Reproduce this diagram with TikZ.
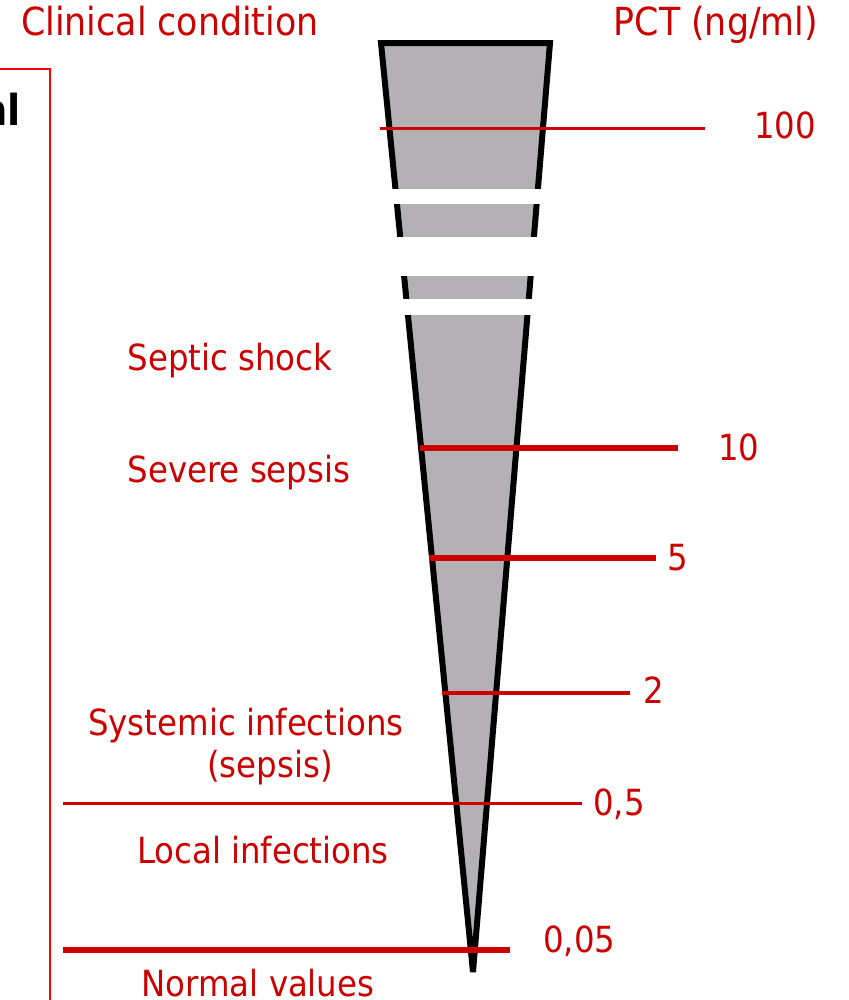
\documentclass[tikz,border=0pt]{standalone}
\usepackage{xcolor}
\usepackage{fontspec}
\setmainfont{DejaVu Sans Condensed}
\usepackage{tikz}
\usetikzlibrary{positioning}

\definecolor{pctred}{HTML}{CC0000}
\definecolor{conegray}{HTML}{B3B1B4}

\begin{document}
\begin{tikzpicture}[x=0.75pt, y=-0.75pt,
  lbl/.style  = {text=pctred, inner sep=0pt, anchor=base,
                 font=\fontsize{27}{32}\selectfont},
  head/.style = {lbl, font=\fontsize{29}{34}\selectfont},
  num/.style  = {lbl, anchor=base west},
  lvl/.style  = {draw=pctred, line width=2.25pt},
  lvlmid/.style  = {draw=pctred, line width=3pt},
  lvlbold/.style = {draw=pctred, line width=4.5pt},
  cone/.style = {fill=conegray, draw=black, line width=4.5pt},
  gap/.style  = {fill=white},
  frame/.style= {draw=red, line width=1.5pt}
]
\clip (0,0) rectangle (849,1000);

% ,  Headers ,
\node[head] (cond) at (170,35)  {Clinical condition};
\node[head] (unit) at (716,35)  {PCT (ng/ml)};

% ,  Cropped frame on the left ,
\coordinate (fr1) at (0,69);
\coordinate (fr2) at (50,69);
\coordinate (fr3) at (50,1000);
\draw[frame] (fr1) -- (fr2) -- (fr3);
\node[anchor=base east, inner sep=0pt,
      font=\fontsize{32}{38}\selectfont\bfseries] (cut) at (21,125) {nl};

% ,  Cone with breaks ,
\coordinate (cl) at (381,43);
\coordinate (cr) at (550,43);
\coordinate (tip) at (473,972);
\filldraw[cone] (cl) -- (cr) -- (tip) -- cycle;
\fill[gap] (360,189) rectangle (570,204);
\fill[gap] (360,237) rectangle (570,276);
\fill[gap] (360,299) rectangle (570,315);

% ,  Level lines ,
\coordinate (a100) at (380,128);  \coordinate (b100) at (705,128);
\coordinate (a10)  at (420,448);  \coordinate (b10)  at (678,448);
\coordinate (a5)   at (429,558);  \coordinate (b5)   at (656,558);
\coordinate (a2)   at (442,693);  \coordinate (b2)   at (630,693);
\coordinate (a05)  at (63,803);   \coordinate (b05)  at (582,803);
\coordinate (a005) at (63,950);   \coordinate (b005) at (510,950);

\draw[lvl]     (a100) -- (b100);
\draw[lvlbold] (a10)  -- (b10);
\draw[lvlbold] (a5)   -- (b5);
\draw[lvlmid]  (a2)   -- (b2);
\draw[lvl]     (a05)  -- (b05);
\draw[lvlbold] (a005) -- (b005);

% ,  Values ,
\node[num] (v100) at (754,138) {100};
\node[num] (v10)  at (718,460) {10};
\node[num] (v5)   at (667,570) {5};
\node[num] (v2)   at (643,703) {2};
\node[num] (v05)  at (593,815) {0,5};
\node[num] (v005) at (543,952) {0,05};

% ,  Clinical conditions ,
\node[lbl] (shock)  at (230,370) {Septic shock};
\node[lbl] (severe) at (239,482) {Severe sepsis};
\node[lbl] (syst)   at (246,735) {Systemic infections};
\node[lbl] (sepsis) at (270,777) {(sepsis)};
\node[lbl] (local)  at (263,863) {Local infections};
\node[lbl] (normal) at (258,996) {Normal values};

\end{tikzpicture}
\end{document}
